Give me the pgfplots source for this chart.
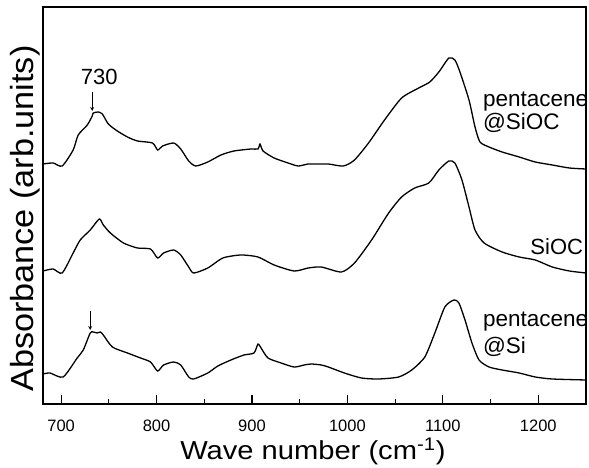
\documentclass[border=0pt]{standalone}
\usepackage{pgfplots}
\pgfplotsset{compat=1.18}
\usepackage{fontspec}
\setmainfont{Liberation Sans}
\begin{document}
\begin{tikzpicture}
\useasboundingbox (-43pt,-64pt) rectangle (546pt,404pt);
\begin{axis}[
  scale only axis,
  width=543pt, height=397pt,
  xmin=681, xmax=1250, ymin=64, ymax=461,
  axis line style={line width=1.6pt},
  xtick={700,800,...,1200},
  minor xtick={750,850,...,1150},
  tick align=inside,
  xtick pos=bottom,
  major tick length=9pt, minor tick length=5pt,
  every tick/.style={black, line width=1.2pt},
  ytick=\empty,
  /pgf/number format/assume math mode=true,
  /pgf/number format/1000 sep={},
  xticklabel style={font=\fontsize{16.5}{16.5}\selectfont, inner sep=0pt, anchor=north, yshift=-16pt},
  xlabel={\scalebox{1.12}[1]{Wave number (cm\textsuperscript{-1})}},
  xlabel style={font=\fontsize{26}{26}\selectfont, at={(axis description cs:0.497,-0.141)}, anchor=base},
  ylabel={\scalebox{1.07}[1]{Absorbance (arb.units)}},
  ylabel style={font=\fontsize{32}{32}\selectfont, at={(axis description cs:-0.0184,0.467)}, anchor=base, rotate=0},
  clip=false,
]
% pentacene @SiOC
\addplot[black, line width=1.3pt, smooth, tension=0.4] coordinates {
(681.1,304) (691.6,305) (701.1,302) (712.6,318) (717.9,333) (727.4,343) (732.6,352) (733.7,355)
(738.9,356) (743.2,354) (749.5,344) (758.9,337) (769.5,331) (780,327) (795.8,325) (801.1,318)
(806.3,322) (817.9,325) (825.3,319) (833.7,307) (841.1,302) (853.7,306) (867.4,313) (881.1,317)
(898.9,319) (906.3,319) (908.4,324) (911.6,317) (923.2,310) (937.9,305) (948.4,302) (958.9,304)
(969.5,304) (980,304) (995.8,302) (1007.4,308) (1022.1,325) (1038.9,348) (1056.8,370) (1074.7,380)
(1086.3,386) (1095.8,396) (1106.3,410) (1112.6,408) (1117.9,396) (1127.4,368) (1133.7,341)
(1138.9,326) (1148.4,321) (1162.1,316) (1180,311) (1196.8,306) (1214.7,303) (1232.6,300) (1250,299)
};
% SiOC
\addplot[black, line width=1.3pt, smooth, tension=0.4] coordinates {
(681.1,197) (691.6,199) (701.1,195) (712.6,215) (720,228) (730.5,238) (740,249) (744.2,243)
(751.6,235) (765.3,225) (780,220) (793.7,219) (801.1,210) (807.4,215) (817.9,218) (825.3,213)
(833.7,201) (838.9,195) (853.7,200) (869.5,210) (888.4,213) (906.3,211) (923.2,203) (944.2,197)
(958.9,200) (972.6,201) (993.7,196) (1007.4,205) (1025.3,228) (1043.2,255) (1056.8,271)
(1070.5,280) (1085.3,285) (1095.8,298) (1106.3,307) (1112.6,305) (1120,288) (1127.4,261)
(1133.7,238) (1143.2,225) (1162.1,216) (1180,211) (1196.8,208) (1214.7,201) (1232.6,197) (1250,195)
};
% pentacene @Si
\addplot[black, line width=1.3pt, smooth, tension=0.4] coordinates {
(681.1,94) (688.4,95) (702.1,91) (716.8,110) (723.2,118) (730.5,135) (733.7,136) (737.9,135)
(741.1,136) (744.2,133) (753.7,121) (769.5,115) (783.2,110) (793.7,106) (801.1,97) (807.4,103)
(817.9,106) (825.3,103) (833.7,91) (838.9,89) (853.7,95) (864.2,102) (877.9,108) (891.6,113)
(902.1,115) (906.3,124) (909.5,120) (916.8,110) (930.5,105) (944.2,101) (954.7,103) (962.1,104)
(972.6,103) (980,101) (996.8,95) (1014.7,90) (1032.6,89) (1053.7,91) (1067.4,98) (1081.1,111)
(1091.6,135) (1102.1,161) (1111.6,168) (1116.8,165) (1123.2,148) (1130.5,125) (1137.9,108)
(1148.4,101) (1162.1,98) (1180,95) (1196.8,91) (1214.7,89) (1250,88)
};
% annotations
\node[font=\fontsize{22}{22}\selectfont] at (axis cs:740,391) {730};
\draw[-stealth, line width=0.8pt] (axis cs:732.6,376) -- (axis cs:732.6,357);
\draw[-stealth, line width=0.8pt] (axis cs:730.5,157) -- (axis cs:730.5,138);
\node[font=\fontsize{22.5}{23}\selectfont, anchor=base west, inner sep=0pt]
  at (axis cs:1142,361) {pentacene};
\node[font=\fontsize{22.5}{23}\selectfont, anchor=base west, inner sep=0pt]
  at (axis cs:1142,338) {@SiOC};
\node[font=\fontsize{22}{23}\selectfont, anchor=base west, inner sep=0pt]
  at (axis cs:1191.6,213) {SiOC};
\node[font=\fontsize{22.5}{23}\selectfont, anchor=base west, inner sep=0pt]
  at (axis cs:1142,141) {pentacene};
\node[font=\fontsize{22.5}{23}\selectfont, anchor=base west, inner sep=0pt]
  at (axis cs:1142,114) {@Si};
\end{axis}
\end{tikzpicture}
\end{document}
